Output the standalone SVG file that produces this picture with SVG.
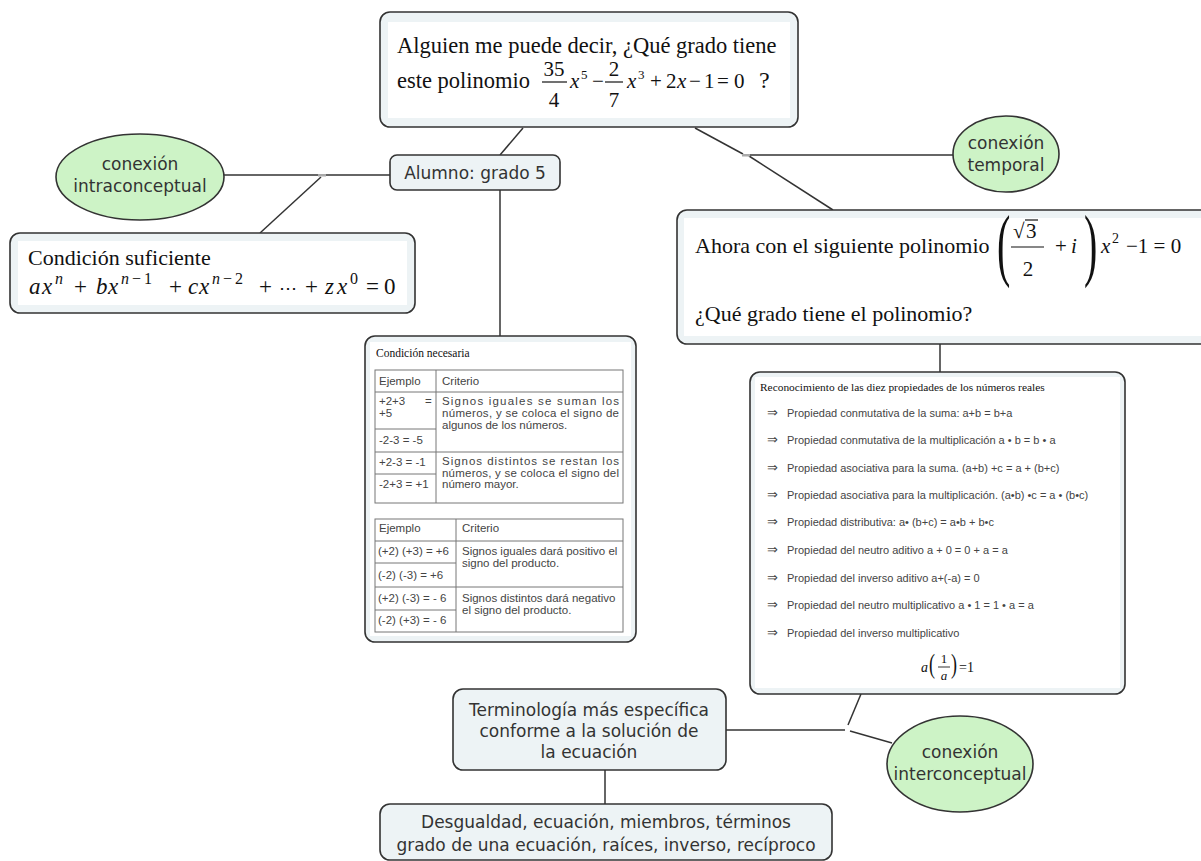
<svg xmlns="http://www.w3.org/2000/svg" width="1201" height="861" viewBox="0 0 1201 861">
<style>
.box{fill:#edf3f5;stroke:#333;stroke-width:1.6}
.inner{fill:#ffffff}
.ell{fill:#cdf3c6;stroke:#333;stroke-width:1.6}
.conn line{stroke:#333;stroke-width:1.5}
.jn{fill:#aaa}
.sans{font-family:"DejaVu Sans",Verdana,sans-serif;font-size:17px;fill:#333;text-anchor:middle}
.serif{font-family:"Liberation Serif","Times New Roman","DejaVu Serif",serif;fill:#111}
.it{font-style:italic}
.tb{font-family:"Liberation Sans",Arial,sans-serif;font-size:11.5px;fill:#444}
.tl{stroke:#777;stroke-width:1;fill:none}
.pr{font-family:"Liberation Sans",Arial,sans-serif;font-size:11px;fill:#444}
.ar{font-family:"DejaVu Sans",sans-serif;font-size:13px;fill:#444}
.mid{text-anchor:middle}
</style>

<g id="connectors" class="conn">
<line x1="523" y1="128" x2="500" y2="155"/>
<line x1="500" y1="190" x2="500" y2="336"/>
<line x1="224" y1="175" x2="318" y2="175"/>
<line x1="326" y1="175" x2="390" y2="175"/>
<line x1="321" y1="177" x2="260" y2="233"/>
<line x1="695" y1="128" x2="743" y2="154"/>
<line x1="750" y1="155" x2="954" y2="155"/>
<line x1="749" y1="156" x2="833" y2="210"/>
<line x1="940" y1="344" x2="940" y2="372"/>
<line x1="861" y1="694" x2="848" y2="725"/>
<line x1="726" y1="730" x2="845" y2="730"/>
<line x1="850" y1="731" x2="892" y2="743"/>
<line x1="605" y1="770" x2="605" y2="804"/>
<rect class="jn" x="318" y="174" width="8" height="2.5"/>
<rect class="jn" x="742" y="154" width="8" height="2.5"/>
</g>

<g id="node-pregunta">
<rect class="box" x="380" y="12" width="418" height="115" rx="10"/>
<rect class="inner" x="388" y="22" width="402" height="96"/>
<text class="serif" x="397" y="53" font-size="22.5">Alguien me puede decir, ¿Qué grado tiene</text>
<text class="serif" x="397" y="88" font-size="22.5">este polinomio</text>
<text class="serif mid" x="554" y="76" font-size="21">35</text>
<line x1="542" y1="82" x2="567" y2="82" stroke="#111" stroke-width="1.2"/>
<text class="serif mid" x="554" y="107" font-size="21">4</text>
<text class="serif it" x="570" y="88" font-size="21">x</text>
<text class="serif" x="581" y="79" font-size="13">5</text>
<text class="serif" x="592" y="88" font-size="21">−</text>
<text class="serif mid" x="614" y="76" font-size="21">2</text>
<line x1="605" y1="82" x2="623" y2="82" stroke="#111" stroke-width="1.2"/>
<text class="serif mid" x="614" y="107" font-size="21">7</text>
<text class="serif it" x="627" y="88" font-size="21">x</text>
<text class="serif" x="638" y="79" font-size="13">3</text>
<text class="serif" x="650" y="88" font-size="21">+</text>
<text class="serif" x="666" y="88" font-size="21">2</text>
<text class="serif it" x="677" y="88" font-size="21">x</text>
<text class="serif" x="689" y="88" font-size="21">−</text>
<text class="serif" x="704" y="88" font-size="21">1</text>
<text class="serif" x="717" y="88" font-size="21">=</text>
<text class="serif" x="734" y="88" font-size="21">0</text>
<text class="serif" x="759" y="88" font-size="24">?</text>
</g>

<g id="node-alumno">
<rect class="box" x="390" y="155" width="170" height="35" rx="7"/>
<text class="sans" x="475" y="179">Alumno: grado 5</text>
</g>

<g id="node-intraconceptual">
<ellipse class="ell" cx="140" cy="177" rx="84" ry="43"/>
<text class="sans" x="140" y="170">conexión</text>
<text class="sans" x="140" y="192">intraconceptual</text>
</g>

<g id="node-suficiente">
<rect class="box" x="10" y="233" width="405" height="80" rx="10"/>
<rect class="inner" x="18" y="241" width="389" height="64"/>
<text class="serif" x="28" y="265" font-size="22">Condición suficiente</text>
<g class="serif it" font-size="23">
<text x="29" y="294">a</text><text x="42" y="294">x</text>
<text x="55" y="284" font-size="16">n</text>
<text x="74" y="294" font-style="normal">+</text>
<text x="96" y="294">b</text><text x="108" y="294">x</text>
<text x="121" y="284" font-size="16" letter-spacing="3">n<tspan font-style="normal">−1</tspan></text>
<text x="169" y="294" font-style="normal">+</text>
<text x="188" y="294">c</text><text x="199" y="294">x</text>
<text x="212" y="284" font-size="16" letter-spacing="3">n<tspan font-style="normal">−2</tspan></text>
<text x="259" y="294" font-style="normal">+</text>
<text x="279" y="294" font-style="normal" font-family="DejaVu Serif,serif" font-size="18">⋯</text>
<text x="305" y="294" font-style="normal">+</text>
<text x="325" y="294">z</text><text x="337" y="294">x</text>
<text x="350" y="284" font-size="16" font-style="normal">0</text>
<text x="366" y="294" font-style="normal">=</text>
<text x="384" y="294" font-style="normal">0</text>
</g>
</g>

<g id="node-necesaria">
<rect class="box" x="365" y="336" width="271" height="306" rx="10"/>
<rect class="inner" x="370" y="342" width="261" height="294"/>
<text class="serif" x="376" y="357" font-size="11.5" fill="#222">Condición necesaria</text>
<rect class="tl" x="375" y="370" width="248" height="133"/>
<line class="tl" x1="436" y1="370" x2="436" y2="503"/>
<line class="tl" x1="375" y1="392" x2="623" y2="392"/>
<line class="tl" x1="375" y1="429" x2="436" y2="429"/>
<line class="tl" x1="375" y1="452" x2="623" y2="452"/>
<line class="tl" x1="375" y1="474" x2="436" y2="474"/>
<text class="tb" x="379" y="385">Ejemplo</text>
<text class="tb" x="442" y="385">Criterio</text>
<text class="tb" x="379" y="405">+2+3</text>
<text class="tb" x="425" y="405">=</text>
<text class="tb" x="379" y="417">+5</text>
<text class="tb" x="379" y="444">-2-3 = -5</text>
<text class="tb" x="379" y="466">+2-3 = -1</text>
<text class="tb" x="379" y="488">-2+3 = +1</text>
<text class="tb" x="442" y="405" textLength="177" lengthAdjust="spacing">Signos iguales se suman los</text>
<text class="tb" x="442" y="417" textLength="177" lengthAdjust="spacing">números, y se coloca el signo de</text>
<text class="tb" x="442" y="429">algunos de los números.</text>
<text class="tb" x="442" y="465" textLength="177" lengthAdjust="spacing">Signos distintos se restan los</text>
<text class="tb" x="442" y="477" textLength="177" lengthAdjust="spacing">números, y se coloca el signo del</text>
<text class="tb" x="442" y="488">número mayor.</text>
<rect class="tl" x="375" y="519" width="248" height="113"/>
<line class="tl" x1="456" y1="519" x2="456" y2="632"/>
<line class="tl" x1="375" y1="541" x2="623" y2="541"/>
<line class="tl" x1="375" y1="563" x2="456" y2="563"/>
<line class="tl" x1="375" y1="587" x2="623" y2="587"/>
<line class="tl" x1="375" y1="610" x2="456" y2="610"/>
<text class="tb" x="379" y="532">Ejemplo</text>
<text class="tb" x="462" y="532">Criterio</text>
<text class="tb" x="378" y="555">(+2) (+3) = +6</text>
<text class="tb" x="378" y="579">(-2) (-3) = +6</text>
<text class="tb" x="378" y="602">(+2) (-3) = - 6</text>
<text class="tb" x="378" y="624">(-2) (+3) = - 6</text>
<text class="tb" x="462" y="555">Signos iguales dará positivo el</text>
<text class="tb" x="462" y="567">signo del producto.</text>
<text class="tb" x="462" y="602">Signos distintos dará negativo</text>
<text class="tb" x="462" y="614">el signo del producto.</text>
</g>

<g id="node-temporal">
<ellipse class="ell" cx="1006" cy="154" rx="53" ry="38"/>
<text class="sans" x="1006" y="149">conexión</text>
<text class="sans" x="1006" y="171">temporal</text>
</g>

<g id="node-ahora">
<rect class="box" x="677" y="210" width="560" height="134" rx="10"/>
<rect class="inner" x="684" y="218" width="540" height="118"/>
<text class="serif" x="695" y="253" font-size="22">Ahora con el siguiente polinomio</text>
<text class="serif" transform="translate(997,271) scale(1,2)" font-size="40" fill="#333">(</text>
<text class="serif" x="1013" y="238" font-size="21">√</text>
<line x1="1025" y1="220" x2="1038" y2="220" stroke="#111" stroke-width="1.2"/>
<text class="serif" x="1026" y="238" font-size="21">3</text>
<line x1="1011" y1="247" x2="1044" y2="247" stroke="#111" stroke-width="1.2"/>
<text class="serif mid" x="1028" y="276" font-size="21">2</text>
<text class="serif" x="1055" y="253" font-size="21">+</text>
<text class="serif it" x="1071" y="253" font-size="21">i</text>
<text class="serif" transform="translate(1084,271) scale(1,2)" font-size="40" fill="#333">)</text>
<text class="serif it" x="1101" y="253" font-size="21">x</text>
<text class="serif" x="1112" y="243" font-size="14">2</text>
<text class="serif" x="1126" y="253" font-size="21">−1 = 0</text>
<text class="serif" x="695" y="321" font-size="22">¿Qué grado tiene el polinomio?</text>
</g>

<g id="node-propiedades">
<rect class="box" x="750" y="372" width="375" height="322" rx="10"/>
<rect class="inner" x="755" y="377" width="365" height="311"/>
<text class="serif" x="760" y="391" font-size="11.4" fill="#222">Reconocimiento de las diez propiedades de los números reales</text>
<g>
<text class="ar" x="767" y="417">⇒</text><text class="pr" x="787" y="417">Propiedad conmutativa de la suma: a+b = b+a</text>
<text class="ar" x="767" y="444">⇒</text><text class="pr" x="787" y="444">Propiedad conmutativa de la multiplicación a • b = b • a</text>
<text class="ar" x="767" y="472">⇒</text><text class="pr" x="787" y="472">Propiedad asociativa para la suma. (a+b) +c = a + (b+c)</text>
<text class="ar" x="767" y="499">⇒</text><text class="pr" x="787" y="499">Propiedad asociativa para la multiplicación. (a•b) •c = a • (b•c)</text>
<text class="ar" x="767" y="526">⇒</text><text class="pr" x="787" y="526">Propiedad distributiva: a• (b+c) = a•b + b•c</text>
<text class="ar" x="767" y="554">⇒</text><text class="pr" x="787" y="554">Propiedad del neutro aditivo a + 0 = 0 + a = a</text>
<text class="ar" x="767" y="582">⇒</text><text class="pr" x="787" y="582">Propiedad del inverso aditivo a+(-a) = 0</text>
<text class="ar" x="767" y="609">⇒</text><text class="pr" x="787" y="609">Propiedad del neutro multiplicativo a • 1 = 1 • a = a</text>
<text class="ar" x="767" y="637">⇒</text><text class="pr" x="787" y="637">Propiedad del inverso multiplicativo</text>
</g>
<text class="serif it" x="921" y="672" font-size="14" fill="#333">a</text>
<text class="serif" transform="translate(929,673) scale(1,1.5)" font-size="18" fill="#333">(</text>
<text class="serif mid" x="944" y="663" font-size="13" fill="#333">1</text>
<line x1="938" y1="667" x2="950" y2="667" stroke="#333" stroke-width="1"/>
<text class="serif it mid" x="944" y="680" font-size="13" fill="#333">a</text>
<text class="serif" transform="translate(951,673) scale(1,1.5)" font-size="18" fill="#333">)</text>
<text class="serif" x="959" y="672" font-size="14" fill="#333">=1</text>
</g>

<g id="node-terminologia">
<rect class="box" x="453" y="689" width="273" height="81" rx="10"/>
<text class="sans" x="589" y="716">Terminología más específica</text>
<text class="sans" x="589" y="737">conforme a la solución de</text>
<text class="sans" x="589" y="758">la ecuación</text>
</g>

<g id="node-interconceptual">
<ellipse class="ell" cx="960" cy="764" rx="73" ry="48"/>
<text class="sans" x="960" y="758">conexión</text>
<text class="sans" x="960" y="780">interconceptual</text>
</g>

<g id="node-terminos">
<rect class="box" x="380" y="804" width="452" height="56" rx="10"/>
<text class="sans" x="606" y="828">Desgualdad, ecuación, miembros, términos</text>
<text class="sans" x="606" y="851">grado de una ecuación, raíces, inverso, recíproco</text>
</g>
</svg>
